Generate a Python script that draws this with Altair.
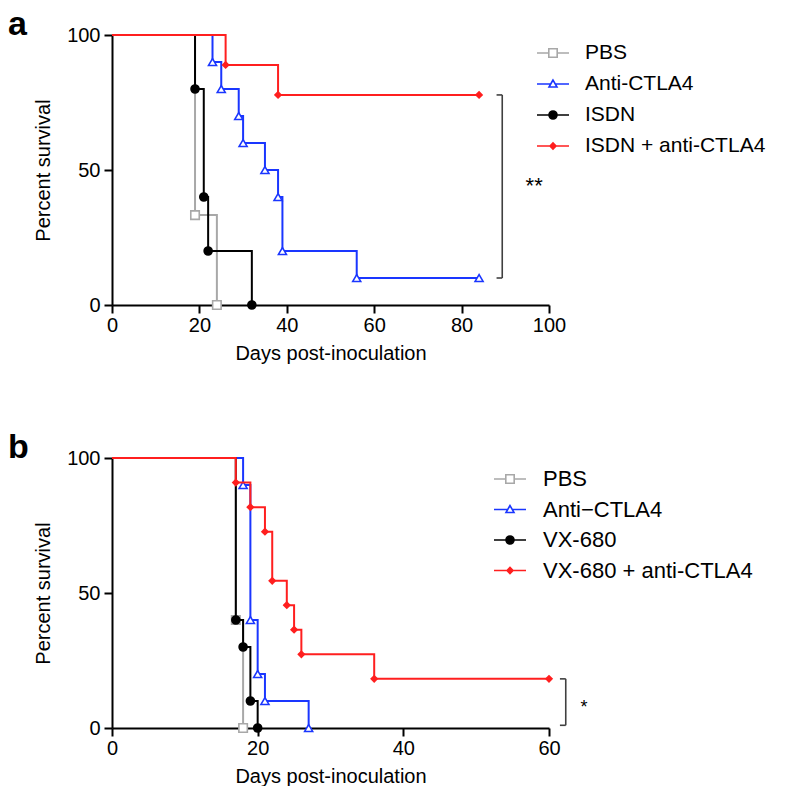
import altair as alt
import pandas as pd

# ---------------- Panel a ----------------
A_LETTER = "a"
A_GROUPS = ["PBS", "Anti-CTLA4", "ISDN", "ISDN + anti-CTLA4"]
A_PBS_DAYS = [0, 19, 24]
A_PBS_SURV = [100, 33.3, 0]
A_ANTI_DAYS = [0, 23, 25, 29, 30, 35, 38, 39, 56, 84]
A_ANTI_SURV = [100, 90, 80, 70, 60, 50, 40, 20, 10, 10]
A_DRUG_DAYS = [0, 19, 21, 22, 32]
A_DRUG_SURV = [100, 80, 40, 20, 0]
A_COMBO_DAYS = [0, 26, 38, 84]
A_COMBO_SURV = [100, 88.9, 77.8, 77.8]
A_XMAX = 100
A_XTICKS = [0, 20, 40, 60, 80, 100]
A_SIG_TEXT = "**"
A_BRACKET_DAY = [88.0, 89.3]
A_BRACKET_SURV = [77.8, 10]
A_SIG_POS = [96.6, 44.0]

# ---------------- Panel b ----------------
B_LETTER = "b"
B_GROUPS = ["PBS", "Anti\u2212CTLA4", "VX-680", "VX-680 + anti-CTLA4"]
B_PBS_DAYS = [0, 17, 18]
B_PBS_SURV = [100, 40, 0]
B_ANTI_DAYS = [0, 18, 19, 20, 21, 27]
B_ANTI_SURV = [100, 90, 40, 20, 10, 0]
B_DRUG_DAYS = [0, 17, 18, 19, 20]
B_DRUG_SURV = [100, 40, 30, 10, 0]
B_COMBO_DAYS = [0, 17, 19, 21, 22, 24, 25, 26, 36, 60]
B_COMBO_SURV = [100, 90.9, 81.8, 72.7, 54.5, 45.5, 36.4, 27.3, 18.2, 18.2]
B_XMAX = 60
B_XTICKS = [0, 20, 40, 60]
B_SIG_TEXT = "*"
B_BRACKET_DAY = [61.5, 62.3]
B_BRACKET_SURV = [18.2, 1.0]
B_SIG_POS = [64.8, 7.5]

Y_TICKS = [0, 50, 100]

# ---------------- Styles ----------------
FONT = "Liberation Sans"
COLORS = ["#A8A8A8", "#1A36FF", "#000000", "#FF1F1F"]
FILLS = ["#FFFFFF", "#FFFFFF", "#000000", "#FF1F1F"]
SHAPES = ["square", "triangle-up", "circle", "diamond"]
SIZES = [72, 64, 64, 36]
LEGEND_PATHS = [
    "M-1.6,0H-0.42M0.42,0H1.6M-0.42,-0.42H0.42V0.42H-0.42Z",
    "M-1.6,0H-0.23M0.23,0H1.6M0,-0.4L-0.4,0.3L0.4,0.3Z",
    "M-1.6,0H1.6M-0.4,0A0.4,0.4 0 1,0 0.4,0A0.4,0.4 0 1,0 -0.4,0Z",
    "M-1.6,0H1.6M-0.3,0L0,-0.3L0.3,0L0,0.3Z",
]


def make_panel(letter, groups, days, survs, xmax, xticks, bracket_day,
               bracket_surv, sig_text, sig_pos, legend_x, legend_y,
               legend_font, row_pad, label_off, sig_size):
    rows = []
    for g, ds, ss in zip(groups, days, survs):
        for d, s in zip(ds, ss):
            rows.append({"group": g, "day": d, "pct": s})
    df = pd.DataFrame(rows)

    xscale = alt.Scale(domain=[0, xmax], nice=False, zero=False)
    yscale = alt.Scale(domain=[0, 100], nice=False, zero=False)
    xaxis = alt.Axis(values=xticks, title="Days post-inoculation", format="d",
                     labelFlush=False)
    yaxis = alt.Axis(values=Y_TICKS, title="Percent survival", format="d",
                     labelFlush=False)

    def X(f):
        return alt.X(f, type="quantitative", scale=xscale, axis=xaxis)

    def Y(f):
        return alt.Y(f, type="quantitative", scale=yscale, axis=yaxis)

    base = alt.Chart(df)
    layers = []
    for i, g in enumerate(groups):
        sub = base.transform_filter(alt.datum.group == g)
        layers.append(
            sub.mark_line(interpolate="step-after", color=COLORS[i], strokeWidth=2)
            .encode(x=X("day"), y=Y("pct"), order=alt.Order("day:Q"))
        )
        layers.append(
            sub.transform_filter(alt.datum.day > 0)
            .mark_point(shape=SHAPES[i], fill=FILLS[i], stroke=COLORS[i],
                        strokeWidth=1.6, size=SIZES[i], opacity=1, filled=True)
            .encode(x=X("day"), y=Y("pct"))
        )

    def leg():
        return alt.Legend(
            title=None, orient="none", legendX=legend_x, legendY=legend_y,
            symbolSize=400, symbolStrokeWidth=1.6, labelFont=FONT,
            labelFontSize=legend_font, labelColor="#000", labelOffset=label_off,
            rowPadding=row_pad, padding=0, labelLimit=400, symbolOpacity=1,
        )

    layers.append(
        base.transform_filter("false")
        .mark_point(opacity=1, strokeWidth=1.6)
        .encode(
            x=X("day"), y=Y("pct"),
            shape=alt.Shape("group:N", scale=alt.Scale(domain=groups, range=LEGEND_PATHS), legend=leg()),
            fill=alt.Fill("group:N", scale=alt.Scale(domain=groups, range=FILLS), legend=leg()),
            stroke=alt.Stroke("group:N", scale=alt.Scale(domain=groups, range=COLORS), legend=leg()),
        )
    )

    # significance bracket
    vdf = pd.DataFrame({"bx": [bracket_day[1]], "by": [bracket_surv[0]], "by2": [bracket_surv[1]]})
    hdf = pd.DataFrame({"bx": [bracket_day[0], bracket_day[0]],
                        "bx2": [bracket_day[1], bracket_day[1]],
                        "by": bracket_surv})
    layers.append(
        alt.Chart(vdf).mark_rule(color="#404040", strokeWidth=1.6)
        .encode(x=X("bx"), y=Y("by"), y2="by2")
    )
    layers.append(
        alt.Chart(hdf).mark_rule(color="#404040", strokeWidth=1.6)
        .encode(x=X("bx"), x2="bx2", y=Y("by"))
    )
    sdf = pd.DataFrame({"sx": [sig_pos[0]], "sy": [sig_pos[1]], "t": [sig_text]})
    layers.append(
        alt.Chart(sdf).mark_text(font=FONT, fontSize=sig_size, color="#000", baseline="middle")
        .encode(x=X("sx"), y=Y("sy"), text="t:N")
    )

    return alt.layer(*layers).properties(
        width=437, height=270,
        title=alt.Title(letter, anchor="start", frame="group", dx=-104, offset=-17,
                        fontSize=34, fontWeight="bold", font=FONT, color="#000"),
    )


pa = make_panel(A_LETTER, A_GROUPS,
                [A_PBS_DAYS, A_ANTI_DAYS, A_DRUG_DAYS, A_COMBO_DAYS],
                [A_PBS_SURV, A_ANTI_SURV, A_DRUG_SURV, A_COMBO_SURV],
                A_XMAX, A_XTICKS, A_BRACKET_DAY, A_BRACKET_SURV,
                A_SIG_TEXT, A_SIG_POS, 430, 7, 21, 10, 21, 22)
pb = make_panel(B_LETTER, B_GROUPS,
                [B_PBS_DAYS, B_ANTI_DAYS, B_DRUG_DAYS, B_COMBO_DAYS],
                [B_PBS_SURV, B_ANTI_SURV, B_DRUG_SURV, B_COMBO_SURV],
                B_XMAX, B_XTICKS, B_BRACKET_DAY, B_BRACKET_SURV,
                B_SIG_TEXT, B_SIG_POS, 387, 10, 22, 8.5, 22, 18)

chart = (
    alt.vconcat(pa, pb, spacing=68)
    .resolve_scale(shape="independent", fill="independent", stroke="independent")
    .resolve_legend(shape="independent", fill="independent", stroke="independent")
    .properties(padding=0, background="white")
    .configure_view(stroke=None)
    .configure_axis(
        grid=False, domainColor="#000", domainWidth=2, tickColor="#000",
        tickWidth=2, tickSize=8, labelFont=FONT, labelFontSize=20,
        labelColor="#000", titleFont=FONT, titleFontSize=20,
        titleFontWeight="normal", titleColor="#000",
    )
    .configure_axisLeft(labelPadding=4, titlePadding=13)
    .configure_axisBottom(labelPadding=2, titlePadding=8)
)

chart.save("out.html", embed_options={"renderer": "svg", "actions": False})
